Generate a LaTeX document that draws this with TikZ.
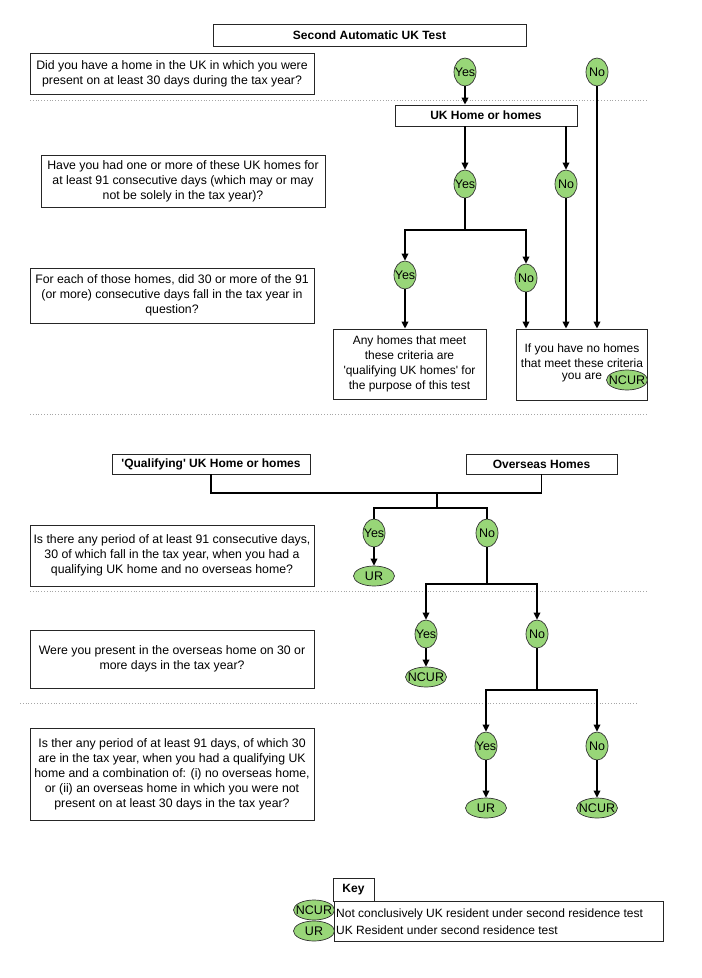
\documentclass[tikz,border=0pt]{standalone}
\usepackage{fontspec}
\setmainfont{Liberation Sans}[Ligatures=TeXOff]
\usetikzlibrary{arrows.meta,shapes.geometric,shadows}
\definecolor{okgreen}{RGB}{152,214,120}
\begin{document}
\begin{tikzpicture}[x=1pt,y=-1pt,
  qbox/.style={draw=black!85, line width=0.8pt, fill=white, align=center,
    font=\fontsize{12.3}{15}\selectfont, inner sep=0pt,
    general shadow={fill=black!25, shadow xshift=1pt, shadow yshift=-1.2pt}},
  hbox/.style={draw=black!85, line width=0.8pt, fill=white, align=center,
    font=\bfseries\fontsize{12}{14}\selectfont, inner sep=0pt},
  tbox/.style={draw=black!85, line width=0.8pt, fill=white, align=center,
    font=\fontsize{12}{15}\selectfont, inner sep=0pt},
  every label/.style={font=\fontsize{12.5}{12.5}\selectfont, inner sep=0pt},
  yn/.style={ellipse, draw=black!80, line width=0.7pt, fill=okgreen,
    minimum width=22pt, minimum height=28pt, inner sep=0pt},
  res/.style={ellipse, draw=black!80, line width=0.7pt, fill=okgreen,
    minimum width=41pt, minimum height=20pt, inner sep=0pt},
  conn/.style={line width=1.7pt, black},
  arr/.style={conn, -{Triangle[length=7pt,width=6.5pt]}},
  dotline/.style={gray!70, line width=0.8pt, dotted},
  txt/.style={font=\fontsize{12}{15}\selectfont, inner sep=0pt, align=center}
]
\useasboundingbox (0,0) rectangle (702,978);

% dotted separators
\draw[dotline] (30,100) -- (647,100);
\draw[dotline] (30,414) -- (647,414);
\draw[dotline] (30,591) -- (647,591);
\draw[dotline] (20,703) -- (637,703);

% header boxes
\node[hbox, minimum width=313pt, minimum height=22pt] (title) at (369.5,35) {Second Automatic UK Test};
\node[hbox, minimum width=182pt, minimum height=21pt] (uk) at (486,115.5) {UK Home or homes};
\node[hbox, minimum width=198pt, minimum height=20pt] (qb) at (211,464) {'Qualifying' UK Home or homes};
\node[hbox, minimum width=151pt, minimum height=20pt] (ob) at (541.5,464) {Overseas Homes};

% question boxes
\node[qbox, minimum width=284pt, minimum height=41pt] (q1) at (172,73.5)
  {Did you have a home in the UK in which you were\\present on at least 30 days during the tax year?};
\node[qbox, minimum width=284pt, minimum height=52pt] (q2) at (183,181)
  {Have you had one or more of these UK homes for\\at least 91 consecutive days (which may or may\\not be solely in the tax year)?};
\node[qbox, minimum width=284pt, minimum height=55pt] (q3) at (172,295.5)
  {For each of those homes, did 30 or more of the 91\\(or more) consecutive days fall in the tax year in\\question?};
\node[qbox, minimum width=284pt, minimum height=61pt] (q4) at (172,555.5)
  {Is there any period of at least 91 consecutive days,\\30 of which fall in the tax year, when you had a\\qualifying UK home and no overseas home?};
\node[qbox, minimum width=284pt, minimum height=58pt] (q5) at (172,659)
  {Were you present in the overseas home on 30 or\\more days in the tax year?};
\node[qbox, minimum width=284pt, minimum height=92pt] (q6) at (172,774)
  {Is ther any period of at least 91 days, of which 30\\are in the tax year, when you had a qualifying UK\\home and a combination of: (i) no overseas home,\\or (ii) an overseas home in which you were not\\present on at least 30 days in the tax year?};

% result boxes
\node[tbox, minimum width=153pt, minimum height=70pt] (any) at (409.5,364)
  {Any homes that meet\\these criteria are\\'qualifying UK homes' for\\the purpose of this test};
\node[tbox, minimum width=131pt, minimum height=71pt] (ncb) at (581.5,364.5) {};
\node[txt] (ncbt) at (582,355.5) {If you have no homes\\that meet these criteria};
\node[txt] (ncbt2) at (582,378) {you are};
\node[res, label={center:NCUR}] (ncbo) at (627,380) {};

% yes/no ovals
\node[yn, label={center:Yes}] (yA) at (465,72) {};
\node[yn, label={center:No}]  (nA) at (597,72) {};
\node[yn, label={center:Yes}] (yB) at (465,184) {};
\node[yn, label={center:No}]  (nB) at (566,184) {};
\node[yn, label={center:Yes}] (yC) at (405,275) {};
\node[yn, label={center:No}]  (nC) at (526,278) {};
\node[yn, label={center:Yes}] (yD) at (374,533) {};
\node[yn, label={center:No}]  (nD) at (487,533) {};
\node[res, label={center:UR}] (urD) at (374,576) {};
\node[yn, label={center:Yes}] (yE) at (426,634) {};
\node[yn, label={center:No}]  (nE) at (537,634) {};
\node[res, label={center:NCUR}] (ncE) at (426,677) {};
\node[yn, label={center:Yes}] (yF) at (486,746) {};
\node[yn, label={center:No}]  (nF) at (597,746) {};
\node[res, label={center:UR}] (urF) at (486,808) {};
\node[res, label={center:NCUR}] (ncF) at (597,808) {};

% connectors, upper part
\draw[arr] (yA.south) -- (yA.south |- uk.north);
\draw[arr] (nA.south) -- (nA.south |- ncb.north);
\draw[arr] (uk.south -| yB) -- (yB.north);
\draw[arr] (uk.south -| nB) -- (nB.north);
\coordinate (jB) at (465,230);
\draw[conn] (yB.south) -- (jB);
\draw[arr] (jB) -| (yC.north);
\draw[arr] (jB) -| (nC.north);
\draw[arr] (yC.south) -- (yC.south |- any.north);
\draw[arr] (nC.south) -- (nC.south |- ncb.north);
\draw[arr] (nB.south) -- (nB.south |- ncb.north);

% connectors, lower part
\coordinate (jD) at (437,493);
\coordinate (jD2) at (437,508);
\draw[conn] (qb.south) |- (jD) -| (ob.south);
\draw[conn] (jD) -- (jD2);
\draw[conn] (jD2) -| (yD.north);
\draw[conn] (jD2) -| (nD.north);
\draw[arr] (yD.south) -- (urD.north);
\coordinate (jE) at (487,584);
\draw[conn] (nD.south) -- (jE);
\draw[arr] (jE) -| (yE.north);
\draw[arr] (jE) -| (nE.north);
\draw[arr] (yE.south) -- (ncE.north);
\coordinate (jF) at (537,690);
\draw[conn] (nE.south) -- (jF);
\draw[arr] (jF) -| (yF.north);
\draw[arr] (jF) -| (nF.north);
\draw[arr] (yF.south) -- (urF.north);
\draw[arr] (nF.south) -- (ncF.north);

% key
\node[hbox, minimum width=41pt, minimum height=23pt] (key) at (353.5,889.5) {Key};
\node[tbox, minimum width=329pt, minimum height=40pt] (leg) at (498.5,921) {};
\node[res, label={center:NCUR}] (ncK) at (314,910) {};
\node[res, label={center:UR}] (urK) at (314,931) {};
\node[txt, anchor=west] (lg1) at (336,914) {Not conclusively UK resident under second residence test};
\node[txt, anchor=west] (lg2) at (336,930) {UK Resident under second residence test};
\end{tikzpicture}
\end{document}
